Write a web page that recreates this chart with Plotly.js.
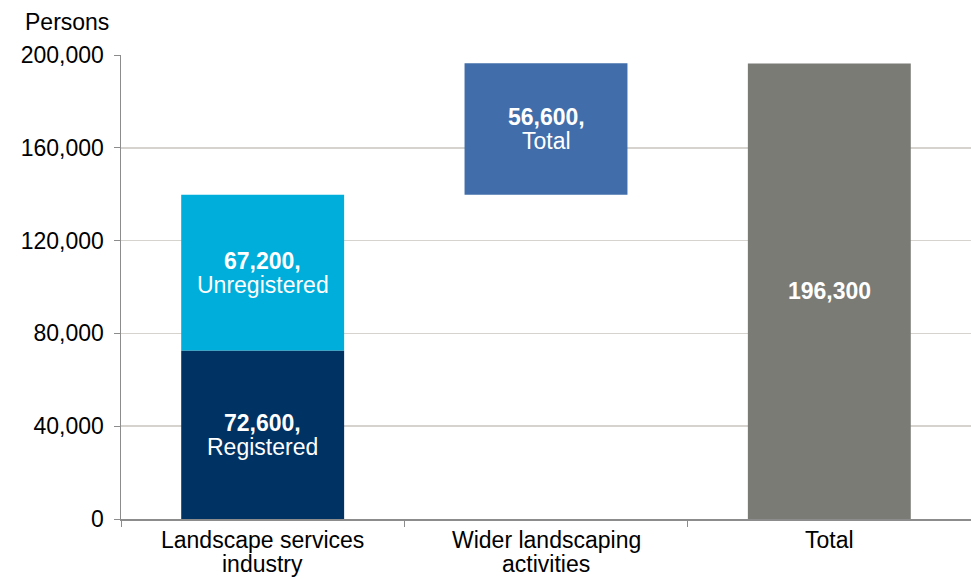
<!DOCTYPE html>
<html>
<head>
<meta charset="utf-8">
<script src="https://cdn.plot.ly/plotly-3.0.1.min.js"></script>
<style>html,body{margin:0;padding:0;background:#fff;}#chart{width:971px;height:579px;}</style>
</head>
<body>
<div id="chart"></div>
<script>
// Data
var categories = ["Landscape services<br>industry", "Wider landscaping<br>activities", "Total"];
var seriesNames = ["Registered", "Unregistered", "Total", ""];
var registered = [72600, null, null];
var unregistered = [67200, null, null];
var wider = [null, 56600, null];
var total = [null, null, 196300];
var yTicks = [0, 40000, 80000, 120000, 160000, 200000];

var FONT = "'Liberation Sans', Arial, Helvetica, sans-serif";
var FS = 23;
var colors = {reg: "#003263", unreg: "#00aedb", wider: "#416eaa", total: "#7b7b76"};

var widerBase = registered[0] + unregistered[0];

var traces = [
  {type: "bar", x: categories, y: registered, base: [0, null, null], marker: {color: colors.reg}, hoverinfo: "none"},
  {type: "bar", x: categories, y: unregistered, base: [registered[0], null, null], marker: {color: colors.unreg}, hoverinfo: "none"},
  {type: "bar", x: categories, y: wider, base: [null, widerBase, null], marker: {color: colors.wider}, hoverinfo: "none"},
  {type: "bar", x: categories, y: total, base: [null, null, 0], marker: {color: colors.total}, hoverinfo: "none"}
];

function fmt(v) { return v.toLocaleString("en-US"); }

var annotations = [];
function barLabel(xc, yc, v, name) {
  if (name) {
    annotations.push({x: xc, y: yc, xref: "x", yref: "y", text: "<b>" + fmt(v) + ",</b>", showarrow: false,
      font: {family: FONT, size: FS, color: "#ffffff"}, yshift: 12, xanchor: "center", yanchor: "middle"});
    annotations.push({x: xc, y: yc, xref: "x", yref: "y", text: name, showarrow: false,
      font: {family: FONT, size: FS, color: "#ffffff"}, yshift: -12, xanchor: "center", yanchor: "middle"});
  } else {
    annotations.push({x: xc, y: yc, xref: "x", yref: "y", text: "<b>" + fmt(v) + "</b>", showarrow: false,
      font: {family: FONT, size: FS, color: "#ffffff"}, xanchor: "center", yanchor: "middle"});
  }
}
barLabel(categories[0], registered[0] / 2, registered[0], seriesNames[0]);
barLabel(categories[0], registered[0] + unregistered[0] / 2, unregistered[0], seriesNames[1]);
barLabel(categories[1], widerBase + wider[1] / 2, wider[1], seriesNames[2]);
barLabel(categories[2], total[2] / 2, total[2], seriesNames[3]);

// category labels, one annotation per line for tight line spacing
categories.forEach(function (c) {
  var lines = c.split("<br>");
  lines.forEach(function (ln, i) {
    annotations.push({x: c, y: 0, xref: "x", yref: "paper", text: ln, showarrow: false,
      font: {family: FONT, size: FS, color: "#000000"}, xanchor: "center", yanchor: "middle",
      yshift: -21 - i * 24});
  });
});

annotations.push({x: 0, y: 1, xref: "paper", yref: "paper", text: "Persons", showarrow: false,
  font: {family: FONT, size: FS, color: "#000000"}, xanchor: "right", yanchor: "middle", xshift: -10, yshift: 33});

var layout = {
  width: 971, height: 579,
  margin: {l: 121, r: 0, t: 55, b: 60},
  paper_bgcolor: "#ffffff", plot_bgcolor: "#ffffff",
  barmode: "overlay",
  bargap: 0.425,
  showlegend: false,
  font: {family: FONT, size: FS, color: "#000000"},
  xaxis: {type: "category", showticklabels: false, ticks: "outside", tickson: "boundaries", ticklen: 6,
    tickcolor: "#8c8c8c", showline: true, linecolor: "#8c8c8c", linewidth: 1.5, showgrid: false, fixedrange: true},
  yaxis: {range: [0, 200000], tickvals: yTicks, tickformat: ",", ticks: "outside", ticklen: 6,
    tickcolor: "#8c8c8c", showline: true, linecolor: "#8c8c8c", linewidth: 1.5, gridcolor: "#d6d3ce",
    gridwidth: 1.5, zeroline: false, ticklabelstandoff: 5,
    tickfont: {family: FONT, size: FS, color: "#000000"}, fixedrange: true},
  annotations: annotations
};

Plotly.newPlot("chart", traces, layout, {displayModeBar: false, staticPlot: true});
</script>
</body>
</html>
